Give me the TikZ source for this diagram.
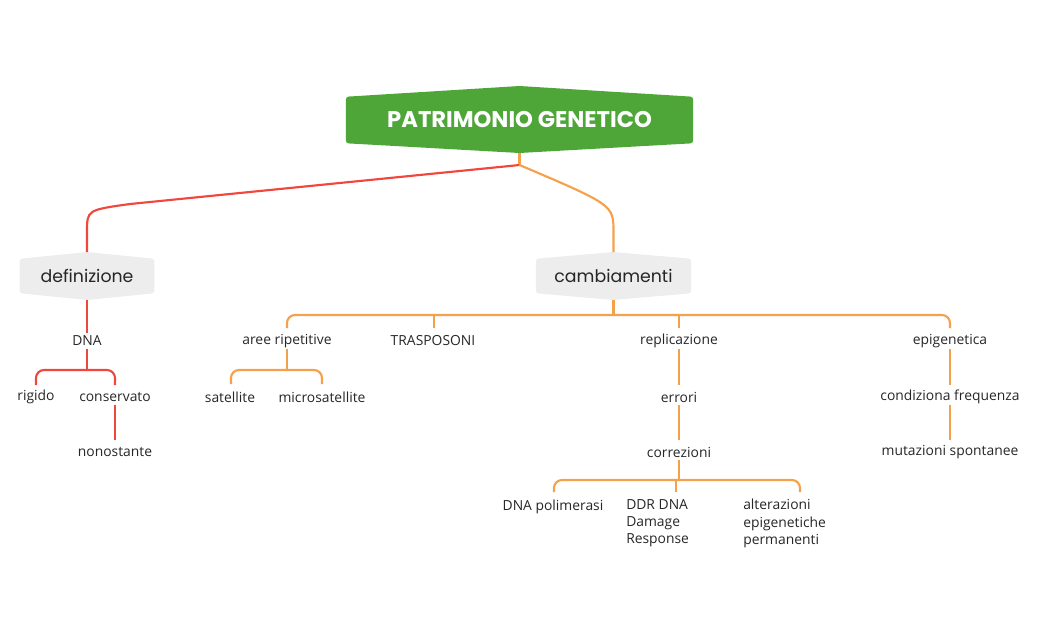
\documentclass[tikz,border=0pt]{standalone}
\usepackage{fontspec}
\setmainfont{Open Sans}
\newfontfamily\titlefont{Poppins}
\usetikzlibrary{positioning}
\definecolor{rootgreen}{HTML}{4EA638}
\definecolor{boxgrey}{HTML}{EDEDED}
\definecolor{redline}{HTML}{F0463C}
\definecolor{orangeline}{HTML}{F5A04A}
\begin{document}
\begin{tikzpicture}[x=0.75pt,y=-0.75pt,
    leaf/.style={inner sep=0pt,font=\fontsize{10.4}{13}\selectfont,text=black!85},
    red link/.style={draw=redline,line width=1.6pt,rounded corners=6pt},
    orange link/.style={draw=orangeline,line width=1.6pt,rounded corners=6pt}]
  \useasboundingbox (0,0) rectangle (1040,643);
  % boxes
  \node (root) [minimum width=260pt,minimum height=34.5pt,inner sep=0pt] at (519.5,120) {};
  \node (def) [minimum width=100.5pt,minimum height=25.5pt,inner sep=0pt] at (87,276) {};
  \node (cam) [minimum width=116pt,minimum height=25.5pt,inner sep=0pt] at (613.5,276) {};
  \fill[rootgreen,rounded corners=2pt] (root.north west) -- (519.5,86) -- (root.north east) -- (root.south east) -- (519.5,153) -- (root.south west) -- cycle;
  \fill[boxgrey,rounded corners=2pt] (def.north west) -- (87,252) -- (def.north east) -- (def.south east) -- (87,300) -- (def.south west) -- cycle;
  \fill[boxgrey,rounded corners=2pt] (cam.north west) -- (613.5,252) -- (cam.north east) -- (cam.south east) -- (613.5,300) -- (cam.south west) -- cycle;
  \node at (root) {\titlefont\fontsize{17}{20}\selectfont\bfseries\color{white}PATRIMONIO GENETICO};
  \node at (def) {\titlefont\fontsize{13}{15}\selectfont\color{black!85}definizione};
  \node at (cam) {\titlefont\fontsize{13}{15}\selectfont\color{black!85}cambiamenti};
  % leaves
  \node (dna) [leaf] at (87,341) {DNA};
  \node (rig) [leaf] at (36,397) {rigido};
  \node (con) [leaf] at (115,397) {conservato};
  \node (non) [leaf] at (115,452) {nonostante};
  \node (are) [leaf] at (287,341) {aree ripetitive};
  \node (sat) [leaf] at (230,397) {satellite};
  \node (mic) [leaf] at (322,397) {microsatellite};
  \node (tra) [leaf] at (433,341) {TRASPOSONI};
  \node (rep) [leaf] at (679,341) {replicazione};
  \node (err) [leaf] at (679,397) {errori};
  \node (cor) [leaf] at (679,452) {correzioni};
  \node (pol) [leaf] at (553,507) {DNA polimerasi};
  \node (ddr) [leaf,align=left,anchor=north west] at (626,499) {DDR DNA\\Damage\\Response};
  \node (alt) [leaf,align=left,anchor=north west] at (743,499) {alterazioni\\epigenetiche\\permanenti};
  \node (epi) [leaf] at (950,341) {epigenetica};
  \node (cfr) [leaf] at (950,397) {condiziona frequenza};
  \node (mut) [leaf] at (950,452) {mutazioni spontanee};
  % connectors
  \coordinate (fork) at (519.5,165);
  \draw[draw=orangeline,line width=1.6pt] (519.5,153) -- (fork);
  \draw[draw=redline,line width=1.6pt] (fork) -- (130,204) .. controls (87,210) .. (87,232) -- (87,252);
  \draw[draw=orangeline,line width=1.6pt] (fork) .. controls (613.5,205) .. (613.5,232) -- (613.5,252);
  \draw[red link] (87,300) -- (87,333);
  \draw[red link] (87,349) -- (87,370);
  \draw[red link] (36,385) -- (36,370) -- (115,370) -- (115,385);
  \draw[red link] (115,405) -- (115,440);
  \draw[draw=orangeline,line width=1.6pt] (613.5,300) -- (613.5,315);
  \draw[orange link] (287,328) -- (287,315) -- (950,315) -- (950,328);
  \draw[orange link] (434,315) -- (434,328);
  \draw[orange link] (679,315) -- (679,328);
  \draw[orange link] (287,349) -- (287,370);
  \draw[orange link] (231,384) -- (231,370) -- (322,370) -- (322,384);
  \draw[orange link] (679,349) -- (679,385);
  \draw[orange link] (679,405) -- (679,440);
  \draw[orange link] (679,460) -- (679,480);
  \draw[orange link] (554,492) -- (554,480) -- (800,480) -- (800,492);
  \draw[orange link] (676,480) -- (676,492);
  \draw[orange link] (950,349) -- (950,385);
  \draw[orange link] (950,405) -- (950,440);
\end{tikzpicture}
\end{document}
